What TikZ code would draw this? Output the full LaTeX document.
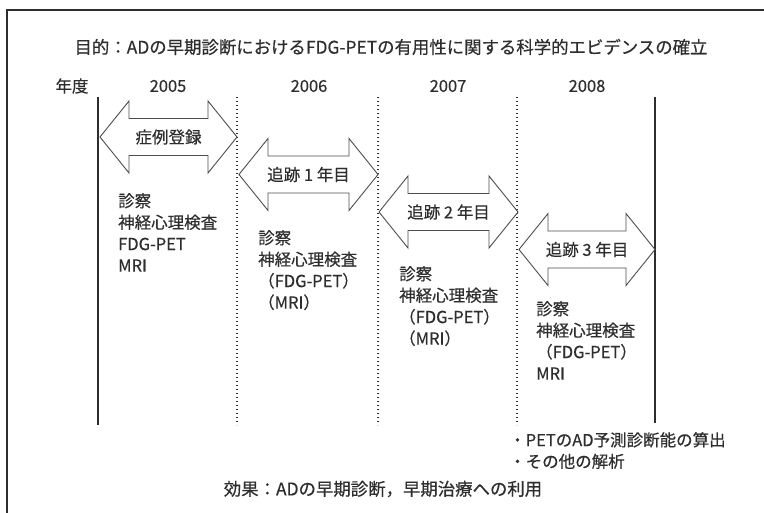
\documentclass[tikz,border=0pt]{standalone}
\usepackage{fontspec}
\setmainfont{Noto Sans CJK JP}[FakeBold=0.4]
\begin{document}
\begin{tikzpicture}[x=1pt,y=-1pt,
  txt/.style={inner sep=0pt,text=ink,font=\fontsize{16.5}{21.5}\selectfont},
  ttl/.style={inner sep=0pt,text=ink,font=\fontsize{17.4}{20}\selectfont},
  lst/.style={txt,anchor=north west,align=left},
  solidline/.style={draw=ink,line width=1.4pt},
  dotline/.style={draw=ink,line width=1.3pt,dash pattern=on 0.9pt off 3.1pt},
  arrowbox/.style={draw=ink!85,line width=0.9pt,fill=white,line join=miter},
]
\definecolor{ink}{HTML}{2E2E2E}
\useasboundingbox (0,0) rectangle (764,513);
\fill[white] (0,0) rectangle (764,513);
% frame
\draw[solidline] (7,513) -- (7,10) -- (764,10);

% title and years
\node[ttl] (title) at (391,47) {目的：ADの早期診断におけるFDG-PETの有用性に関する科学的エビデンスの確立};
\node[txt] (nendo) at (72,86) {年度};
\node[txt] (y5) at (168,86) {2005};
\node[txt] (y6) at (309,86) {2006};
\node[txt] (y7) at (448,86) {2007};
\node[txt] (y8) at (587,86) {2008};

% vertical lines
\coordinate (l0t) at (98,97);  \coordinate (l0b) at (98,425);
\coordinate (l1t) at (237,97); \coordinate (l1b) at (237,425);
\coordinate (l2t) at (378,97); \coordinate (l2b) at (378,425);
\coordinate (l3t) at (517,97); \coordinate (l3b) at (517,425);
\coordinate (l4t) at (655,97); \coordinate (l4b) at (655,423);
\draw[solidline] (l0t) -- (l0b);
\draw[dotline] (l1t) -- (l1b);
\draw[dotline] (l2t) -- (l2b);
\draw[dotline] (l3t) -- (l3b);
\draw[solidline] (l4t) -- (l4b);

% double arrows: \darrow{name}{x1}{x2}{y}{label}
\newcommand\darrow[5]{%
  \draw[arrowbox] (#2,#4) -- (#2+29,#4-36) -- (#2+29,#4-18.5) -- (#3-29,#4-18.5)
    -- (#3-29,#4-36) -- (#3,#4) -- (#3-29,#4+36) -- (#3-29,#4+18.5)
    -- (#2+29,#4+18.5) -- (#2+29,#4+36) -- cycle;
  \node[txt] (#1) at ({(#2+#3)/2},#4) {#5};}
\darrow{a1}{100}{237}{137}{症例登録}
\darrow{a2}{239}{378}{174.5}{追跡 1 年目}
\darrow{a3}{379}{518}{212}{追跡 2 年目}
\darrow{a4}{519}{655}{249.5}{追跡 3 年目}

% lists
\node[lst] (s1) at (118,193) {診察\\神経心理検査\\FDG-PET\\MRI};
\node[lst] (s2) at (258,230) {診察\\神経心理検査\\（FDG-PET）\\（MRI）};
\node[lst] (s3) at (399,266) {診察\\神経心理検査\\（FDG-PET）\\（MRI）};
\node[lst] (s4) at (536,301) {診察\\神経心理検査\\（FDG-PET）\\MRI};

% results
\node[lst] (r) at (509,432) {・PETのAD予測診断能の算出\\・その他の解析};
\node[ttl] (eff) at (383,489) {効果：ADの早期診断，早期治療への利用};
\end{tikzpicture}
\end{document}
